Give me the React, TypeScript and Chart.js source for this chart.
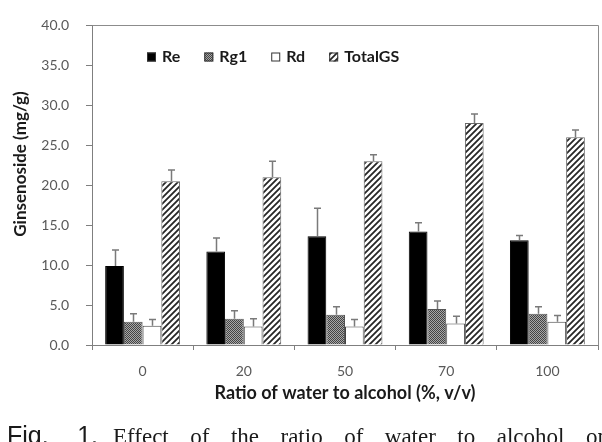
import { useEffect, useRef } from 'react';
import { Chart, registerables } from 'chart.js';

Chart.register(...registerables);

// Extraction ratio (water : alcohol, % v/v)
const categories = ['0', '20', '50', '70', '100'];

// Ginsenoside content, mg/g, with standard deviations
const seriesLabels = ['Re', 'Rg1', 'Rd', 'TotalGS'];
const reValues = [9.9, 11.7, 13.6, 14.2, 13.1];
const reErrors = [2.0, 1.7, 3.5, 1.1, 0.6];
const rg1Values = [2.9, 3.3, 3.8, 4.5, 3.9];
const rg1Errors = [1.0, 1.0, 1.0, 1.0, 0.9];
const rdValues = [2.4, 2.3, 2.3, 2.7, 2.9];
const rdErrors = [0.8, 1.0, 0.9, 0.9, 0.8];
const totalValues = [20.5, 21.0, 23.0, 27.8, 26.0];
const totalErrors = [1.4, 2.0, 0.8, 1.1, 0.9];

const errorSets = [reErrors, rg1Errors, rdErrors, totalErrors];

const xTitle = 'Ratio of water to alcohol (%, v/v)';
const yTitle = 'Ginsenoside (mg/g)';

const captionLabel = ['Fig.', '1.'];
const captionText = ['Effect', 'of', 'the', 'ratio', 'of', 'water', 'to', 'alcohol', 'on'];

const AXIS_FONT = 'Lato, "Open Sans", sans-serif';

function dotPattern(): CanvasPattern | string {
  const c = document.createElement('canvas');
  c.width = 2;
  c.height = 2;
  const g = c.getContext('2d');
  if (!g) return '#777';
  g.fillStyle = '#a8a8a8';
  g.fillRect(0, 0, 2, 2);
  g.fillStyle = '#444444';
  g.fillRect(0, 0, 1, 1);
  g.fillRect(1, 1, 1, 1);
  return g.createPattern(c, 'repeat') || '#777';
}

function hatchPattern(): CanvasPattern | string {
  const s = 6;
  const c = document.createElement('canvas');
  c.width = s;
  c.height = s;
  const g = c.getContext('2d');
  if (!g) return '#888';
  g.fillStyle = '#ffffff';
  g.fillRect(0, 0, s, s);
  g.strokeStyle = '#262626';
  g.lineWidth = 1.8;
  g.beginPath();
  g.moveTo(-1, s + 1);
  g.lineTo(s + 1, -1);
  g.moveTo(-s / 2 - 1, s / 2 + 1);
  g.lineTo(s / 2 + 1, -s / 2 - 1);
  g.moveTo(s / 2 - 1, s * 1.5 + 1);
  g.lineTo(s * 1.5 + 1, s / 2 - 1);
  g.stroke();
  return g.createPattern(c, 'repeat') || '#888';
}

// Upward error bars with a small cap
const errorBarPlugin = {
  id: 'errorBars',
  afterDatasetsDraw(chart: any) {
    const { ctx } = chart;
    const yScale = chart.scales.y;
    ctx.save();
    ctx.strokeStyle = '#7a7a7a';
    ctx.lineWidth = 1.5;
    chart.data.datasets.forEach((ds: any, i: number) => {
      const meta = chart.getDatasetMeta(i);
      const errs = errorSets[i];
      meta.data.forEach((bar: any, j: number) => {
        const v = ds.data[j] as number;
        const top = yScale.getPixelForValue(v + errs[j]);
        const x = Math.round(bar.x) + 0.5;
        ctx.beginPath();
        ctx.moveTo(x, bar.y);
        ctx.lineTo(x, top);
        ctx.moveTo(x - 3.5, top);
        ctx.lineTo(x + 3.5, top);
        ctx.stroke();
      });
    });
    ctx.restore();
  },
};

// Plot frame on the top and right sides
const framePlugin = {
  id: 'frame',
  beforeDatasetsDraw(chart: any) {
    const { ctx, chartArea } = chart;
    ctx.save();
    ctx.strokeStyle = '#8c8c8c';
    ctx.lineWidth = 1;
    ctx.beginPath();
    ctx.moveTo(Math.round(chartArea.left) + 0.5, Math.round(chartArea.top) + 0.5);
    ctx.lineTo(Math.round(chartArea.right) + 0.5, Math.round(chartArea.top) + 0.5);
    ctx.lineTo(Math.round(chartArea.right) + 0.5, Math.round(chartArea.bottom) + 0.5);
    ctx.stroke();
    ctx.restore();
  },
};

// Legend row inside the plot area
const legendPlugin = {
  id: 'innerLegend',
  afterDraw(chart: any) {
    const { ctx } = chart;
    const box = 9;
    let x = 147;
    const cy = 57;
    ctx.save();
    ctx.font = `bold 16px ${AXIS_FONT}`;
    ctx.textBaseline = 'middle';
    ctx.textAlign = 'left';
    chart.data.datasets.forEach((ds: any) => {
      ctx.fillStyle = ds.backgroundColor;
      ctx.fillRect(x, cy - box / 2, box, box);
      ctx.strokeStyle = '#333';
      ctx.lineWidth = 1;
      ctx.strokeRect(x + 0.5, cy - box / 2 + 0.5, box - 1, box - 1);
      ctx.fillStyle = '#1a1a1a';
      ctx.fillText(ds.label, x + box + 6, cy);
      x += box + 6 + ctx.measureText(ds.label).width + 24;
    });
    ctx.restore();
  },
};

// Axis titles
const axisTitlePlugin = {
  id: 'axisTitles',
  afterDraw(chart: any) {
    const { ctx, chartArea } = chart;
    ctx.save();
    ctx.fillStyle = '#1a1a1a';
    ctx.textAlign = 'center';
    ctx.textBaseline = 'middle';
    ctx.font = `bold 18px ${AXIS_FONT}`;
    ctx.fillText(xTitle, (chartArea.left + chartArea.right) / 2, 393);
    ctx.font = `bold 17px ${AXIS_FONT}`;
    ctx.translate(21, 164);
    ctx.rotate(-Math.PI / 2);
    ctx.fillText(yTitle, 0, 0);
    ctx.restore();
  },
};

export default function App() {
  const canvasRef = useRef<HTMLCanvasElement | null>(null);

  useEffect(() => {
    const canvas = canvasRef.current;
    if (!canvas) return;
    const dots = dotPattern();
    const hatch = hatchPattern();

    const chart = new Chart(canvas, {
      type: 'bar',
      data: {
        labels: categories,
        datasets: [
          { label: seriesLabels[0], data: reValues, backgroundColor: '#000000', borderColor: '#000000', borderWidth: 1 },
          { label: seriesLabels[1], data: rg1Values, backgroundColor: dots as any, borderColor: '#555555', borderWidth: 1 },
          { label: seriesLabels[2], data: rdValues, backgroundColor: '#ffffff', borderColor: '#444444', borderWidth: 1 },
          { label: seriesLabels[3], data: totalValues, backgroundColor: hatch as any, borderColor: '#666666', borderWidth: 1 },
        ],
      },
      options: {
        responsive: false,
        animation: false,
        devicePixelRatio: 1,
        layout: { padding: { top: 10, right: 4, left: 0, bottom: 0 } },
        datasets: { bar: { categoryPercentage: 0.74, barPercentage: 1.0 } },
        plugins: {
          legend: { display: false },
          tooltip: { enabled: false },
        },
        scales: {
          x: {
            type: 'category',
            offset: true,
            grid: {
              display: true,
              drawOnChartArea: false,
              drawTicks: true,
              tickLength: 5,
              color: '#7f7f7f',
              offset: true,
            },
            border: { color: '#7f7f7f', width: 1 },
            ticks: {
              color: '#595959',
              font: { family: AXIS_FONT, size: 14 },
              padding: 13,
              maxRotation: 0,
            },
            afterFit: (scale: any) => {
              scale.height = 97;
            },
          },
          y: {
            min: 0,
            max: 40,
            grid: {
              display: true,
              drawOnChartArea: false,
              drawTicks: true,
              tickLength: 6,
              color: '#7f7f7f',
            },
            border: { color: '#7f7f7f', width: 1 },
            ticks: {
              stepSize: 5,
              color: '#595959',
              font: { family: AXIS_FONT, size: 14 },
              padding: 17,
              callback: (v: any) => Number(v).toFixed(1),
            },
            afterFit: (scale: any) => {
              scale.width = 92;
            },
          },
        },
      },
      plugins: [framePlugin, errorBarPlugin, legendPlugin, axisTitlePlugin],
    });

    let alive = true;
    const fonts = (document as any).fonts;
    if (fonts && fonts.load) {
      Promise.all([
        fonts.load(`bold 16px Lato`),
        fonts.load(`14px Lato`),
      ]).then(() => {
        if (alive) chart.update();
      }).catch(() => {});
    }

    return () => {
      alive = false;
      chart.destroy();
    };
  }, []);

  const sans = '"Liberation Sans", Arial, sans-serif';
  const serif = '"Liberation Serif", "Times New Roman", serif';

  return (
    <div
      style={{
        position: 'absolute',
        left: 0,
        top: 0,
        width: 602,
        height: 442,
        overflow: 'hidden',
        background: '#ffffff',
      }}
    >
      <canvas
        ref={canvasRef}
        width={602}
        height={442}
        style={{ position: 'absolute', left: 0, top: 0, width: 602, height: 442, display: 'block' }}
      />
      <div
        style={{
          position: 'absolute',
          left: 7,
          top: 423,
          width: 91,
          display: 'flex',
          justifyContent: 'space-between',
          fontFamily: sans,
          fontSize: 25,
          lineHeight: 1,
          color: '#1a1a1a',
          whiteSpace: 'nowrap',
        }}
      >
        {captionLabel.map((w, i) => (
          <span key={i}>{w}</span>
        ))}
      </div>
      <div
        style={{
          position: 'absolute',
          left: 113,
          top: 425,
          width: 496,
          display: 'flex',
          justifyContent: 'space-between',
          fontFamily: serif,
          fontSize: 23,
          lineHeight: 1,
          color: '#1a1a1a',
          whiteSpace: 'nowrap',
        }}
      >
        {captionText.map((w, i) => (
          <span key={i}>{w}</span>
        ))}
      </div>
    </div>
  );
}
